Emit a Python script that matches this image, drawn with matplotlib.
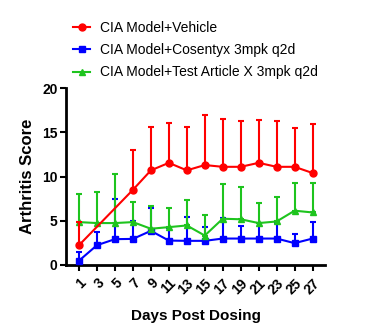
import numpy as np
import matplotlib
matplotlib.use('Agg')
from matplotlib import pyplot as plt
from matplotlib.lines import Line2D

plt.rcParams['font.family'] = ['Liberation Sans', 'DejaVu Sans']

# Data (mean and upper error)
days = [1, 3, 5, 7, 9, 11, 13, 15, 17, 19, 21, 23, 25, 27]
vehicle_mean = [2.24, np.nan, np.nan, 8.5, 10.7, 11.55, 10.7, 11.3, 11.1, 11.1, 11.55, 11.1, 11.1, 10.4]
vehicle_err = [2.66, np.nan, np.nan, 4.5, 4.95, 4.45, 4.95, 5.67, 5.4, 5.2, 4.85, 5.2, 4.4, 5.5]
cosentyx_mean = [0.49, 2.24, 2.92, 2.95, 3.86, 2.76, 2.73, 2.73, 2.99, 2.99, 2.99, 2.99, 2.47, 2.99]
cosentyx_err = [0.99, 1.51, 4.58, 2.05, 2.58, 1.44, 2.64, 1.51, 2.27, 1.41, 1.71, 1.81, 1.05, 1.86]
article_mean = [4.85, 4.74, 4.74, 4.85, 4.1, 4.28, 4.47, 3.33, 5.23, 5.17, 4.74, 4.92, 6.14, 5.94]
article_err = [3.15, 3.46, 5.52, 2.25, 2.6, 2.12, 2.83, 2.37, 3.97, 3.66, 2.31, 2.73, 3.14, 3.36]

labels = ['CIA Model+Vehicle', 'CIA Model+Cosentyx 3mpk q2d', 'CIA Model+Test Article X 3mpk q2d']


def draw_series(ax, mean, err, color, marker, ms, z):
    x = np.array(days, dtype=float)
    m = np.array(mean, dtype=float)
    e = np.array(err, dtype=float)
    ok = ~np.isnan(m)
    ax.errorbar(x[ok], m[ok], yerr=[np.zeros(ok.sum()), e[ok]], color=color,
                marker=marker, markersize=ms, linewidth=1.5, elinewidth=1.5,
                capsize=2.2, capthick=1.5, zorder=z, clip_on=False)
    return Line2D([], [], color=color, marker=marker, markersize=ms, linewidth=1.5)


fig = plt.figure(figsize=(3.75, 3.3), dpi=100)
ax = fig.add_axes([0.176, 0.197, 0.691, 0.536])

h_blue = draw_series(ax, cosentyx_mean, cosentyx_err, '#0000FF', 's', 4.5, 3)
h_green = draw_series(ax, article_mean, article_err, '#1EC41E', '^', 5, 4)
h_red = draw_series(ax, vehicle_mean, vehicle_err, '#FF0000', 'o', 5, 5)

ax.set_xlim(-0.45, 28.4)
ax.set_ylim(0, 20)
ax.set_xticks(days)
ax.set_xticklabels([str(d) for d in days], rotation=45, ha='right', rotation_mode='anchor',
                   fontweight='bold', fontsize=10)
ax.set_yticks([0, 5, 10, 15, 20])
ax.set_yticklabels(['0', '5', '10', '15', '20'], fontweight='bold', fontsize=10)
ax.tick_params(direction='out', length=4, width=1.5)
ax.tick_params(axis='x', pad=4)
ax.tick_params(axis='y', pad=2)

for s in ['top', 'right']:
    ax.spines[s].set_visible(False)
for s in ['left', 'bottom']:
    ax.spines[s].set_linewidth(2)

ax.set_xlabel('Days Post Dosing', fontweight='bold', fontsize=11, labelpad=9)
ax.set_ylabel('Arthritis Score', fontweight='bold', fontsize=12, labelpad=5)

fig.legend([h_red, h_blue, h_green], labels, loc='upper left',
           bbox_to_anchor=(0.162, 0.975), frameon=False, fontsize=10,
           handlelength=1.2, handletextpad=0.75, labelspacing=0.6)

fig.savefig('out.png', dpi=100)
